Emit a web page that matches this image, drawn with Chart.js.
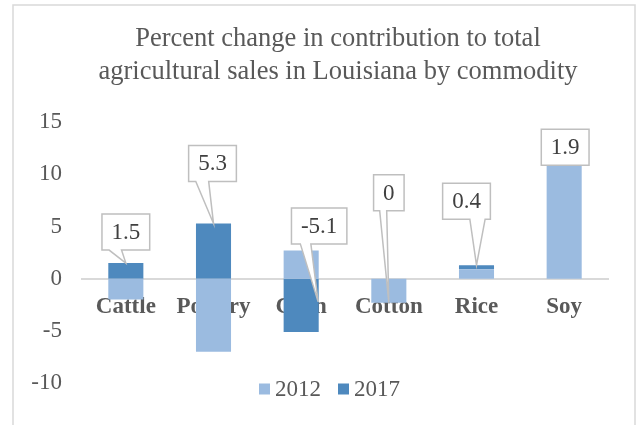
<!DOCTYPE html>
<html>
<head>
<meta charset="utf-8">
<script src="https://cdn.jsdelivr.net/npm/chart.js@4/dist/chart.umd.min.js"></script>
<style>
  html, body { margin: 0; padding: 0; background: #fff; }
  #wrap { width: 638px; height: 425px; }
</style>
</head>
<body>
<div id="wrap"><canvas id="barchart" width="638" height="425"></canvas></div>
<script>
// chart data
const categories = ["Cattle", "Poultry", "Corn", "Cotton", "Rice", "Soy"];
const seriesNames = ["2012", "2017"];
const values2012 = [-2.0, -7.0, 2.7, -2.3, 0.9, 11.0];
const values2017 = [1.5, 5.3, -5.1, 0, 0.4, 1.9];
const yMin = -10;
const yMax = 15;
const yStep = 5;

// callout placement for the 2017 labels (px offsets from the bar end)
const calloutStyle = [
    {dx: 0, dy: -31, tx: 0, ty: 0, b0: 0.15, b1: 0.41},
    {dx: -1, dy: -60, tx: 0, ty: 0, b0: 0.15, b1: 0.42},
    {dx: 18, dy: -106, tx: 17, ty: -30, b0: 0.16, b1: 0.35},
    {dx: 0, dy: -110, tx: 0, ty: 0, b0: 0.2, b1: 0.43},
    {dx: -10, dy: -64, tx: 0, ty: 0, b0: 0.57, b1: 0.89},
    {dx: 1, dy: 3, tx: 0, ty: 0, b0: null, b1: null}
];

const serif = "'Liberation Serif', 'Times New Roman', serif";
const textGrey = "#595959";
const colors = ["#9bbbe0", "#4e89be"];

const framePlugin = {
    id: "frame",
    beforeDraw(chart) {
        const ctx = chart.ctx;
        ctx.save();
        ctx.fillStyle = "#fff";
        ctx.fillRect(0, 0, chart.width, chart.height);
        ctx.strokeStyle = "#d9d9d9";
        ctx.lineWidth = 1.5;
        ctx.beginPath();
        ctx.moveTo(13, chart.height + 5);
        ctx.lineTo(13, 5);
        ctx.lineTo(635, 5);
        ctx.lineTo(635, chart.height + 5);
        ctx.stroke();
        ctx.restore();
    },
    afterLayout(chart) {
        // excel centres the title a bit right of the canvas middle
        if (chart.titleBlock) {
            chart.titleBlock.left = 38;
            chart.titleBlock.right = 638;
        }
    }
};

const calloutPlugin = {
    id: "callouts",
    afterDraw(chart) {
        const ctx = chart.ctx;
        const meta = chart.getDatasetMeta(1);
        ctx.save();
        ctx.font = "23px " + serif;
        meta.data.forEach((el, i) => {
            const st = calloutStyle[i];
            const txt = String(values2017[i]);
            const w = ctx.measureText(txt).width + 19;
            const h = 36;
            const cx = el.x + st.dx, cy = el.y + st.dy;
            const l = cx - w / 2, r = cx + w / 2, t = cy - h / 2, b = cy + h / 2;
            ctx.beginPath();
            ctx.moveTo(l, t);
            ctx.lineTo(r, t);
            ctx.lineTo(r, b);
            if (st.b0 !== null) {
                ctx.lineTo(l + w * st.b1, b);
                ctx.lineTo(el.x + st.tx, el.y + st.ty);
                ctx.lineTo(l + w * st.b0, b);
            }
            ctx.lineTo(l, b);
            ctx.closePath();
            ctx.fillStyle = "#fff";
            ctx.fill();
            ctx.strokeStyle = "#bfbfbf";
            ctx.lineWidth = 1.5;
            ctx.stroke();
            ctx.fillStyle = "#404040";
            ctx.textAlign = "center";
            ctx.textBaseline = "middle";
            ctx.fillText(txt, cx, cy + 1);
        });
        ctx.restore();
    }
};

const legendPlugin = {
    id: "bottomLegend",
    afterDraw(chart) {
        const ctx = chart.ctx;
        const sets = chart.data.datasets;
        ctx.save();
        ctx.font = "23px " + serif;
        const box = 11, gap = 5, itemGap = 17;
        const widths = sets.map(d => box + gap + ctx.measureText(d.label).width);
        const total = widths.reduce((a, b) => a + b, 0) + itemGap * (sets.length - 1);
        let x = 329.5 - total / 2;
        const y = 389;
        sets.forEach((d, i) => {
            ctx.fillStyle = d.backgroundColor;
            ctx.fillRect(x, y - box / 2, box, box);
            ctx.fillStyle = textGrey;
            ctx.textAlign = "left";
            ctx.textBaseline = "middle";
            ctx.fillText(d.label, x + box + gap, y + 1);
            x += widths[i] + itemGap;
        });
        ctx.restore();
    }
};

const ctx = document.getElementById("barchart");
new Chart(ctx, {
    type: "bar",
    data: {
        labels: categories,
        datasets: [
            {label: seriesNames[0], data: values2012, backgroundColor: colors[0], borderWidth: 0},
            {label: seriesNames[1], data: values2017, backgroundColor: colors[1], borderWidth: 0}
        ]
    },
    options: {
        responsive: false,
        animation: false,
        devicePixelRatio: 1,
        layout: {padding: {left: 13, right: 30, top: 0, bottom: 42}},
        datasets: {bar: {categoryPercentage: 1, barPercentage: 0.4}},
        plugins: {
            legend: {display: false},
            tooltip: {enabled: false},
            title: {
                display: true,
                text: ["Percent change in contribution to total", "agricultural sales in Louisiana by commodity"],
                color: textGrey,
                font: {family: serif, size: 26.5, weight: "normal", lineHeight: 1.25},
                padding: {top: 22, bottom: 34}
            }
        },
        scales: {
            x: {
                stacked: true,
                position: {y: 0},
                z: 1,
                grid: {display: false, drawTicks: false},
                border: {display: true, color: "#d9d9d9", width: 2},
                ticks: {color: textGrey, padding: 15, font: {family: serif, size: 23, weight: "bold"}},
                afterFit(scale) { scale.paddingLeft = 0; scale.paddingRight = 0; }
            },
            y: {
                stacked: true,
                min: yMin,
                max: yMax,
                grid: {display: false, drawTicks: false},
                border: {display: false},
                ticks: {stepSize: yStep, color: textGrey, padding: 20, font: {family: serif, size: 23}},
                afterFit(scale) { scale.width = 69; }
            }
        }
    },
    plugins: [framePlugin, calloutPlugin, legendPlugin]
});
</script>
</body>
</html>
